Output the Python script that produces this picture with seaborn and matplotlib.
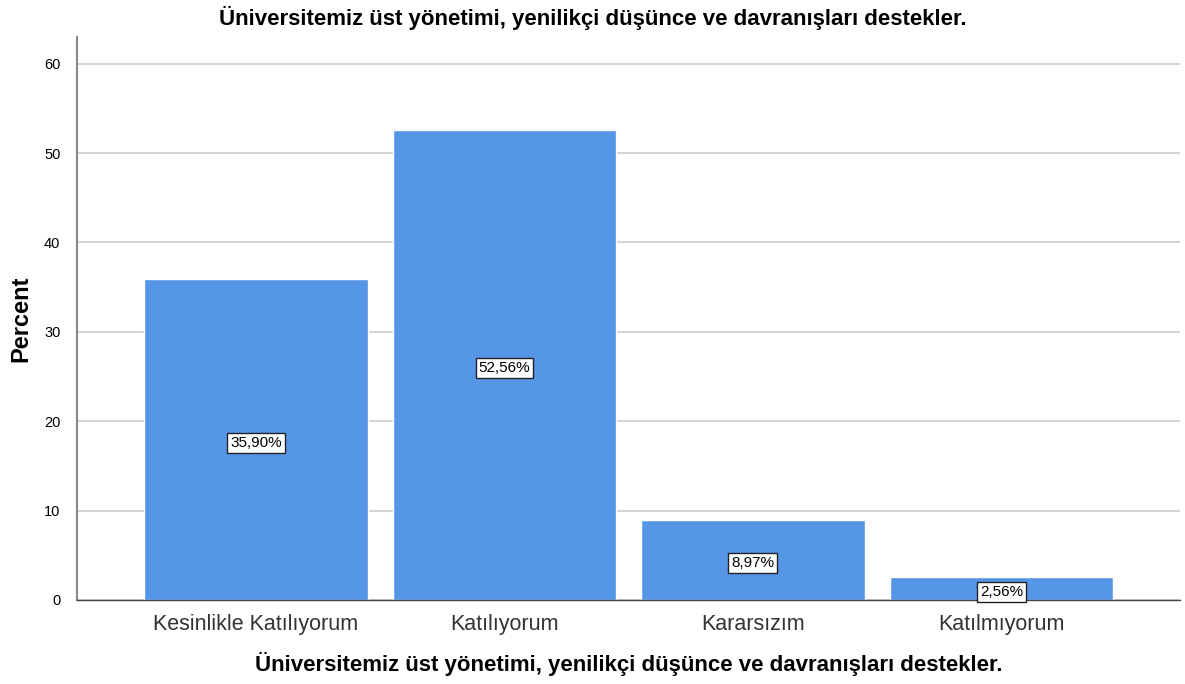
import pandas as pd
import numpy as np
import matplotlib.pyplot as plt
import seaborn as sns

# response categories and their share (%)
categories = ["Kesinlikle Katılıyorum", "Katılıyorum", "Kararsızım", "Katılmıyorum"]
percents = [35.90, 52.56, 8.97, 2.56]
yticks = [0, 10, 20, 30, 40, 50, 60]
question = "Üniversitemiz üst yönetimi, yenilikçi düşünce ve davranışları destekler."

df = pd.DataFrame({"cevap": categories, "yuzde": percents})

sns.set_style("white")
plt.rcParams["font.family"] = ["Liberation Sans", "DejaVu Sans"]

fig = plt.figure(figsize=(11.85, 6.84), dpi=100)
ax = fig.add_axes([0.065, 0.123, 0.931, 0.823])

ax.set_axisbelow(True)
ax.yaxis.grid(True, color="#cccccc", linewidth=1.2)
sns.barplot(data=df, x="cevap", y="yuzde", color="#5596e6", saturation=1,
            width=0.9, ax=ax)

for p, val in zip(ax.patches, percents):
    cx = p.get_x() + p.get_width() / 2
    ax.text(cx, val / 2 - 0.35, f"{val:.2f}%".replace(".", ","), ha="center", va="center",
            fontsize=11, color="black",
            bbox=dict(boxstyle="square,pad=0.2", fc="white", ec="#222222", lw=1))

ax.set_xlim(-0.72, 3.72)
ax.set_ylim(0, 63)
ax.set_yticks(yticks)
ax.tick_params(axis="y", labelsize=10.5, length=0, pad=12, labelcolor="black")
ax.tick_params(axis="x", labelsize=15.5, length=0, pad=10, labelcolor="#333333")

for s in ["top", "right"]:
    ax.spines[s].set_visible(False)
ax.spines["left"].set_color("#888888")
ax.spines["left"].set_linewidth(1.5)
ax.spines["bottom"].set_color("#444444")
ax.spines["bottom"].set_linewidth(1)

ax.set_ylabel("Percent", fontsize=17, fontweight="bold", labelpad=8, color="black")
ax.set_xlabel(question, fontsize=16, fontweight="bold", labelpad=12, color="black")
fig.suptitle(question, x=0.5, y=0.974, va="center", fontsize=16, fontweight="bold",
             color="black")

fig.savefig("out.png", dpi=100)
